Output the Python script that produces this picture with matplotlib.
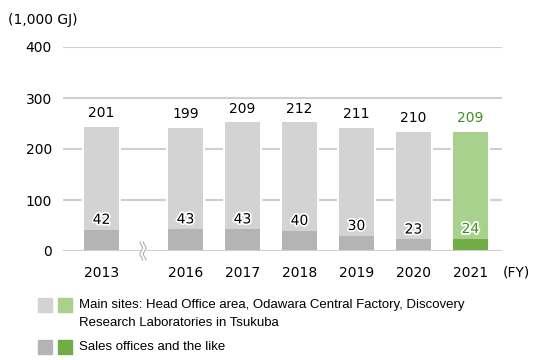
import matplotlib.pyplot as plt
import matplotlib.patheffects as pe
from matplotlib.patches import Rectangle
import numpy as np

years = ['2013', '2016', '2017', '2018', '2019', '2020', '2021']
main_sites = [201, 199, 209, 212, 211, 210, 209]
sales_offices = [42, 43, 43, 40, 30, 23, 24]

gray_light = '#d3d3d3'
gray_dark = '#b4b4b4'
green_light = '#a9d18e'
green_dark = '#70ad47'
green_text = '#3f8f22'
grid_col = '#cfcfcf'

fig = plt.figure(figsize=(5.52, 3.6), dpi=100)
ax = fig.add_axes([63 / 552, 109 / 360, 439 / 552, 204 / 360])

# 2013 sits apart from the rest (axis break)
pos = np.arange(len(years)) + np.where(np.arange(len(years)) > 0, 0.474, 0)
width = 0.614
totals = np.array(main_sites) + np.array(sales_offices)

for y in [100, 200, 300, 400]:
    ax.axhline(y, color=grid_col, lw=1.5, zorder=1)
ax.axhline(0, color=grid_col, lw=1.5, zorder=4)

# white gap around bars
ax.bar(pos, totals, width + 0.08, color='white', zorder=2)

for i, x in enumerate(pos):
    last = i == len(years) - 1
    c_top = green_light if last else gray_light
    c_bot = green_dark if last else gray_dark
    tc = green_text if last else 'black'
    ax.bar(x, sales_offices[i], width, color=c_bot, zorder=3)
    ax.bar(x, main_sites[i], width, bottom=sales_offices[i], color=c_top, zorder=3)
    ax.annotate(str(main_sites[i]), (x, totals[i]), xytext=(0, 10), textcoords='offset points',
                ha='center', va='center', fontsize=10, color=tc, zorder=5)
    ax.annotate(str(sales_offices[i]), (x, sales_offices[i]), xytext=(0, 7), textcoords='offset points',
                ha='center', va='center', fontsize=10, color=tc, zorder=5,
                path_effects=[pe.withStroke(linewidth=2.5, foreground='white')])

# break mark on the baseline
bx = 0.728
ax.add_patch(Rectangle((bx - 0.04, -4), 0.08, 8, color='white', zorder=5, clip_on=False))
t = np.linspace(-18, 18, 60)
for dx in (-0.03, 0.03):
    ax.plot(bx + dx + 0.022 * np.sin(t / 18 * np.pi * 1.5), t, color='#b0b0b0', lw=0.8,
            zorder=6, clip_on=False)

ax.set_xlim(-0.675, 7.03)
ax.set_ylim(0, 400)
ax.set_yticks([0, 100, 200, 300, 400])
ax.set_xticks(pos)
ax.set_xticklabels(years)
ax.tick_params(length=0, labelsize=10)
ax.tick_params(axis='x', pad=11)
ax.tick_params(axis='y', pad=8)
for s in ax.spines.values():
    s.set_visible(False)

fig.text(8 / 552, 1 - 20 / 360, '(1,000 GJ)', fontsize=10, va='center', ha='left')
fig.text(503 / 552, 1 - 273 / 360, '(FY)', fontsize=10, va='center', ha='left')

# legend
def sq(x, y, c):
    fig.patches.append(Rectangle((x / 552, 1 - (y + 14) / 360), 14 / 552, 14 / 360,
                                 color=c, transform=fig.transFigure, figure=fig))

sq(38, 298, gray_light)
sq(58, 298, green_light)
sq(38, 340, gray_dark)
sq(58, 340, green_dark)
lf = 'Liberation Sans'
fig.text(79 / 552, 1 - 305 / 360, 'Main sites: Head Office area, Odawara Central Factory, Discovery',
         fontsize=9.5, family=lf, va='center')
fig.text(79 / 552, 1 - 323 / 360, 'Research Laboratories in Tsukuba', fontsize=9.5, family=lf, va='center')
fig.text(79 / 552, 1 - 347 / 360, 'Sales offices and the like', fontsize=9.5, family=lf, va='center')

fig.savefig('out.png', dpi=100)
